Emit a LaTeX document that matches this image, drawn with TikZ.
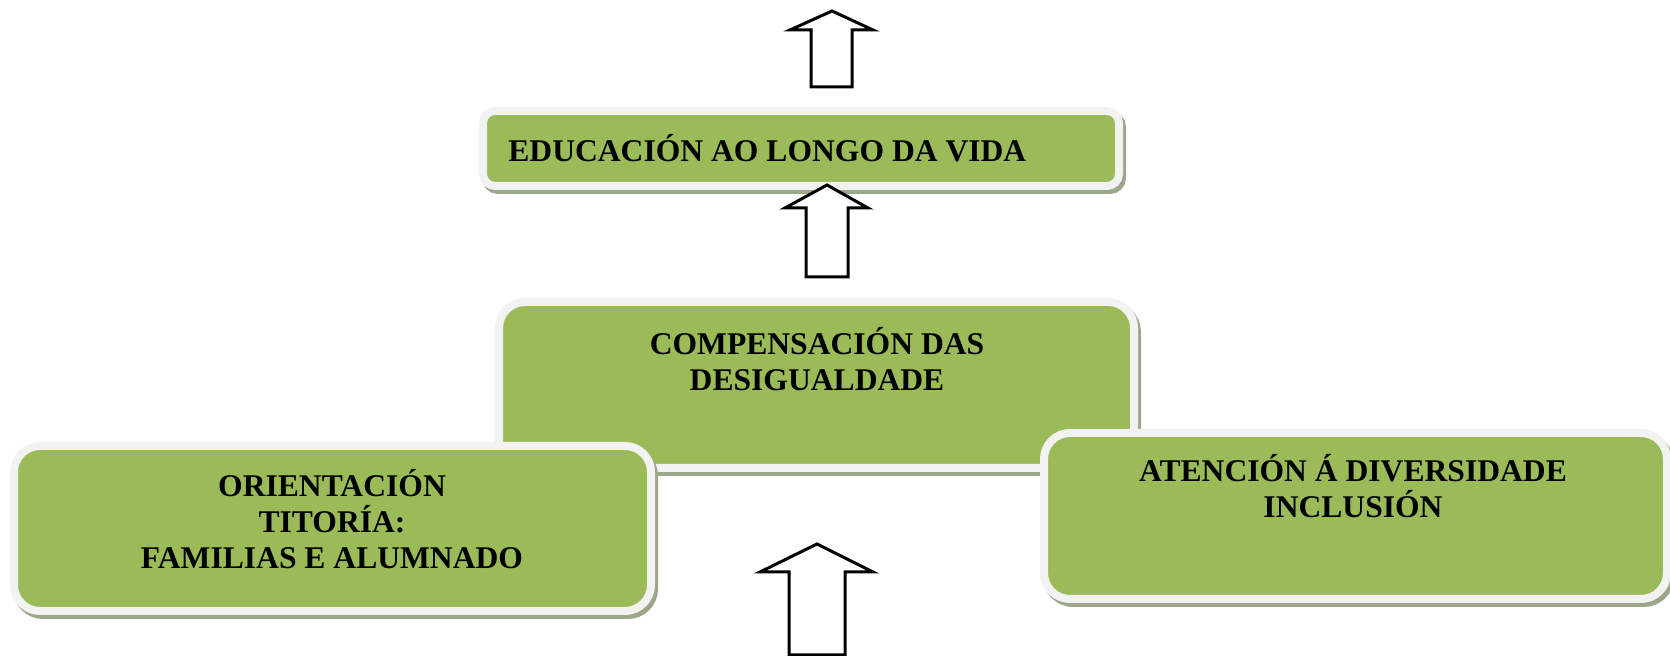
\documentclass[tikz,border=0pt]{standalone}
\usepackage{fontspec}
\setmainfont{Liberation Serif}
\usetikzlibrary{positioning}
\definecolor{boxgreen}{HTML}{9BBB59}
\definecolor{rimgray}{HTML}{F2F2F2}
\definecolor{shadowgreen}{HTML}{9CA688}

\begin{document}
\begin{tikzpicture}[x=0.5pt,y=0.5pt,
    greenbox/.style={fill=boxgreen, draw=rimgray, line width=4pt, rounded corners=13pt, inner sep=0pt,
      preaction={draw=shadowgreen, line width=4pt, transform canvas={xshift=1.5pt,yshift=-2pt}}},
    boxtext/.style={font=\fontsize{15.8}{18}\selectfont\bfseries, align=center, inner sep=0pt}]
        \useasboundingbox (0,0) rectangle (1670,656);
        % boxes
        \node[greenbox, minimum width=317.5pt, minimum height=83pt] (comp) at (816.5,271) {};
        \node[greenbox, rounded corners=6pt, minimum width=318pt, minimum height=37.5pt] (edu) at (801,507.5) {};
        \node[greenbox, minimum width=318.5pt, minimum height=82.5pt] (orient) at (332.5,127.5) {};
        \node[greenbox, minimum width=311.5pt, minimum height=83pt] (atten) at (1355.5,140) {};
        % texts
        \node[boxtext, anchor=west] (edutext) at (508,507.5) {EDUCACIÓN AO LONGO DA VIDA};
        \node[boxtext] (comptext) at (817,297) {COMPENSACIÓN DAS\\DESIGUALDADE};
        \node[boxtext] (orienttext) at (332,137) {ORIENTACIÓN\\TITORÍA:\\FAMILIAS E ALUMNADO};
        \node[boxtext] (attentext) at (1353,170) {ATENCIÓN Á DIVERSIDADE\\INCLUSIÓN};
        % arrows
        \tikzstyle{ArrowStyle}=[draw=black, fill=white, line width=1.5pt, line join=miter]
        \draw[ArrowStyle] (811,569) -- (811,626) -- (790,626) -- (832,645) -- (873,626) -- (852,626) -- (852,569) -- cycle;
        \draw[ArrowStyle] (806,379) -- (806,448) -- (785,448) -- (827,471) -- (868,448) -- (848,448) -- (848,379) -- cycle;
        \draw[ArrowStyle] (789,1) -- (789,84) -- (760,84) -- (817,112) -- (873,84) -- (845,84) -- (845,1) -- cycle;
\end{tikzpicture}
\end{document}
